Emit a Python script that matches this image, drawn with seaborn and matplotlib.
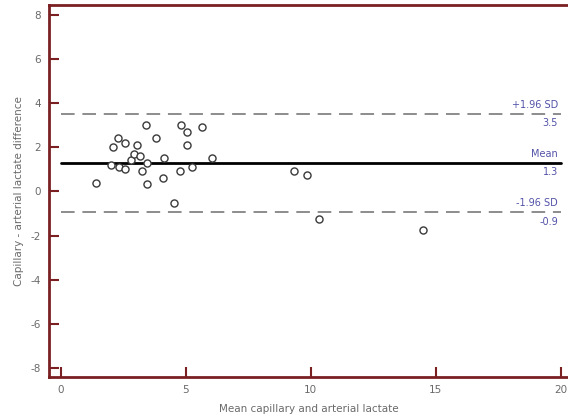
import matplotlib
matplotlib.use("Agg")
import matplotlib.pyplot as plt
import seaborn as sns
import pandas as pd

# Valores (Bland-Altman)
media_lactato = [1.4, 2.0, 2.07, 2.29, 2.34, 2.58, 2.58, 2.8, 2.93, 3.03,
                 3.18, 3.24, 3.39, 3.45, 3.45, 3.8, 4.12, 4.1, 4.54, 4.75,
                 4.79, 5.06, 5.05, 5.26, 5.65, 6.06, 9.33, 9.86, 10.35, 14.5]
diferenca = [0.4, 1.2, 2.0, 2.42, 1.1, 2.2, 1.0, 1.44, 1.71, 2.1,
             1.62, 0.91, 3.0, 1.3, 0.32, 2.42, 1.5, 0.6, -0.53, 0.91,
             3.0, 2.7, 2.1, 1.1, 2.9, 1.5, 0.91, 0.73, -1.24, -1.74]

linhas_valor = [3.5, 1.3, -0.95]
linhas_nome = ["+1.96 SD", "Mean", "-1.96 SD"]
linhas_texto = ["3.5", "1.3", "-0.9"]
linhas_estilo = ["--", "-", "--"]

df = pd.DataFrame({"media": media_lactato, "dif": diferenca})

sns.set_style("white")
plt.rcParams["font.family"] = ["DejaVu Sans"]
plt.rcParams["axes.unicode_minus"] = False

fig = plt.figure(figsize=(5.68, 4.19), dpi=100)
ax = fig.add_axes([0.0871, 0.1002, 0.9129, 0.888])

vermelho = "#7a1f22"
cinza_txt = "#6a6a6a"
azul = "#5252a8"

# Linhas de média e limites de concordância
for val, estilo in zip(linhas_valor, linhas_estilo):
    if estilo == "-":
        ax.plot([0, 20], [val, val], color="black", lw=2.0, zorder=2)
    else:
        ax.plot([0, 20], [val, val], color="#8c8c8c", lw=1.4,
                dashes=(7, 4), zorder=2)

for val, nome, txt in zip(linhas_valor, linhas_nome, linhas_texto):
    ax.annotate(nome, (19.9, val), xytext=(0, 3), textcoords="offset points",
                ha="right", va="bottom", color=azul, fontsize=7)
    ax.annotate(txt, (19.9, val), xytext=(0, -3), textcoords="offset points",
                ha="right", va="top", color=azul, fontsize=7)

sns.scatterplot(data=df, x="media", y="dif", ax=ax, marker="o", s=26,
                facecolor="white", edgecolor="#3a3a3a", linewidth=1.0,
                zorder=3)

ax.set_xlim(-0.46, 20.3)
ax.set_ylim(-8.41, 8.45)
ax.set_xticks([0, 5, 10, 15, 20])
ax.set_yticks([-8, -6, -4, -2, 0, 2, 4, 6, 8])

for lado in ["left", "bottom", "top"]:
    ax.spines[lado].set_color(vermelho)
    ax.spines[lado].set_linewidth(2.0)
ax.spines["right"].set_visible(False)

ax.tick_params(axis="both", direction="in", length=7, width=1.5,
               color=vermelho, labelcolor=cinza_txt, labelsize=7.5, pad=6)
ax.tick_params(axis="x", bottom=True, top=False)
ax.tick_params(axis="y", left=True, right=False)

ax.set_xlabel("Mean capillary and arterial lactate", color=cinza_txt,
              fontsize=7.5, labelpad=6)
ax.set_ylabel("Capillary - arterial lactate difference", color=cinza_txt,
              fontsize=7.5, labelpad=5)

fig.savefig("out.png", dpi=100)
